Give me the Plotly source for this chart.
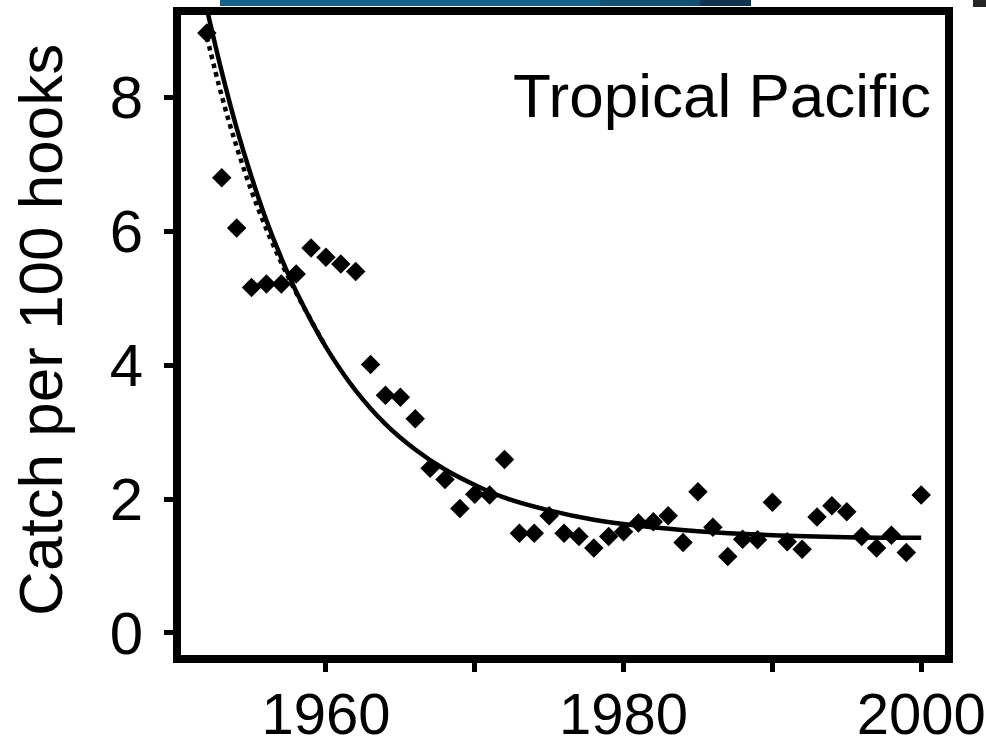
import plotly.graph_objects as go

# Observed catch rates (catch per 100 hooks), Tropical Pacific
years = list(range(1952, 2001))
catch = [8.96, 6.80, 6.05, 5.16, 5.21, 5.21, 5.36, 5.75, 5.61, 5.51,
         5.40, 4.01, 3.55, 3.52, 3.20, 2.46, 2.29, 1.86, 2.07, 2.06,
         2.59, 1.49, 1.49, 1.75, 1.49, 1.44, 1.27, 1.44, 1.51, 1.64,
         1.66, 1.75, 1.35, 2.11, 1.58, 1.14, 1.40, 1.39, 1.95, 1.36,
         1.25, 1.73, 1.90, 1.81, 1.44, 1.27, 1.46, 1.20, 2.06]

# Fitted curve (solid)
fit_years = [1952, 1953, 1954, 1955, 1956, 1957, 1958, 1960, 1962, 1964,
             1966, 1968, 1970, 1972, 1975, 1978, 1981, 1985, 1990, 1995, 2000]
fit_vals = [9.32, 8.38, 7.54, 6.81, 6.16, 5.60, 5.10, 4.27, 3.62, 3.12,
            2.74, 2.44, 2.21, 2.02, 1.83, 1.69, 1.60, 1.52, 1.46, 1.43, 1.42]

# Alternative fit (dotted), visible only at the start
alt_years = [1952, 1953, 1954, 1955, 1956, 1957, 1958, 1959, 1960]
alt_vals = [8.90, 8.02, 7.26, 6.60, 6.03, 5.53, 5.08, 4.67, 4.27]

y_ticks = [0, 2, 4, 6, 8]
x_ticks = [1960, 1970, 1980, 1990, 2000]
x_ticktext = ["1960", "", "1980", "", "2000"]

FONT = "Liberation Sans, Arial, Helvetica, sans-serif"

fig = go.Figure()
fig.add_trace(go.Scatter(x=alt_years, y=alt_vals, mode="lines",
                         line=dict(color="black", width=4.5, dash="dot", shape="spline"),
                         hoverinfo="skip", showlegend=False))
fig.add_trace(go.Scatter(x=fit_years, y=fit_vals, mode="lines",
                         line=dict(color="black", width=4.5, shape="spline"),
                         hoverinfo="skip", showlegend=False))
fig.add_trace(go.Scatter(x=years, y=catch, mode="markers",
                         marker=dict(symbol="diamond", size=15, color="black",
                                     line=dict(width=0)),
                         showlegend=False))

axis_common = dict(showline=True, mirror=True, linewidth=8, linecolor="black",
                   ticks="outside", ticklen=9, tickwidth=5, tickcolor="black",
                   showgrid=False, zeroline=False)

fig.update_xaxes(range=[1950.26, 2001.6], tickvals=x_ticks, ticktext=x_ticktext,
                 ticklabelstandoff=-8,
                 tickfont=dict(family=FONT, size=58, color="black"),
                 **axis_common)
fig.update_yaxes(range=[-0.33, 9.23], tickvals=y_ticks, ticklabelstandoff=9,
                 tickfont=dict(family=FONT, size=60, color="black"),
                 **axis_common)

# y-axis title
fig.add_annotation(text="Catch per 100 hooks", xref="paper", yref="paper",
                   x=(41 - 181) / 764, y=0.508, xanchor="center", yanchor="middle",
                   textangle=-90, showarrow=False,
                   font=dict(family=FONT, size=62, color="black"))

fig.add_annotation(text="Tropical Pacific", xref="paper", yref="paper",
                   x=0.984, y=0.875, xanchor="right", yanchor="middle",
                   showarrow=False,
                   font=dict(family=FONT, size=62, color="black"))

# strips at the top edge of the picture (cropped neighbour panels)
fig.add_shape(type="rect", xref="paper", yref="paper",
              x0=(220 - 181) / 764, x1=(600 - 181) / 764, y0=1.0141, y1=1.03,
              fillcolor="#15628c", line=dict(width=0), layer="above")
fig.add_shape(type="rect", xref="paper", yref="paper",
              x0=(600 - 181) / 764, x1=(700 - 181) / 764, y0=1.0141, y1=1.03,
              fillcolor="#125073", line=dict(width=0), layer="above")
fig.add_shape(type="rect", xref="paper", yref="paper",
              x0=(700 - 181) / 764, x1=(751 - 181) / 764, y0=1.0141, y1=1.03,
              fillcolor="#0f3553", line=dict(width=0), layer="above")
fig.add_shape(type="rect", xref="paper", yref="paper",
              x0=(973 - 181) / 764, x1=(990 - 181) / 764, y0=(655 - 7) / 640, y1=1.03,
              fillcolor="#262626", line=dict(width=0), layer="above")

fig.update_layout(width=986, height=744,
                  margin=dict(l=181, r=41, t=15, b=89, autoexpand=False),
                  paper_bgcolor="white", plot_bgcolor="white",
                  font=dict(family=FONT, color="black"))

fig.write_html("out.html")
